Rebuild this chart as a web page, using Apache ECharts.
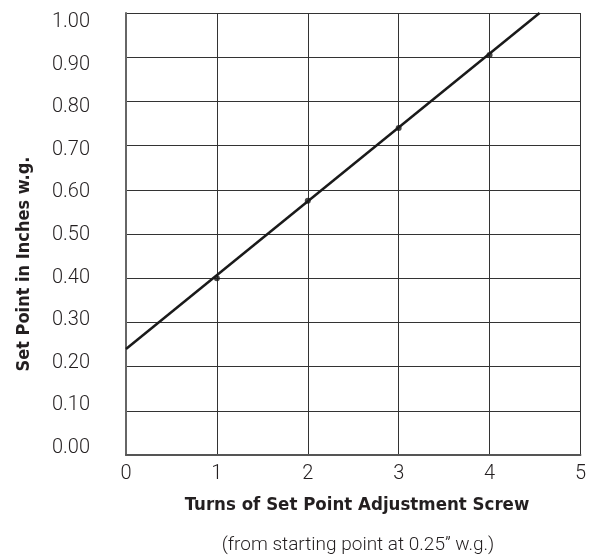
<!DOCTYPE html>
<html><head><meta charset="utf-8">
<script src="https://cdn.jsdelivr.net/npm/echarts@6/dist/echarts.min.js"></script>
<style>html,body{margin:0;padding:0;background:#fff}#c{width:589px;height:555px}</style>
</head><body><div id="c"></div>
<script>
const turns = [1, 2, 3, 4];
const setPoint = [0.40, 0.575, 0.74, 0.905];
const trendLine = [[0, 0.24], [4.55, 1.0]];
const xTicks = ['0', '1', '2', '3', '4', '5'];
const yTicks = ['0.00','0.10','0.20','0.30','0.40','0.50','0.60','0.70','0.80','0.90','1.00'];
const xTitle = 'Turns of Set Point Adjustment Screw';
const xSubtitle = '(from starting point at 0.25\u201d w.g.)';
const yTitle = 'Set Point in Inches w.g.';

const BOLD = '"DejaVu Sans Condensed", "Liberation Sans Narrow", sans-serif';
const LIGHT = 'Roboto, "DejaVu Sans Condensed", sans-serif';
const INK = '#231f20';
const chart = echarts.init(document.getElementById('c'), null, {renderer: 'canvas'});
chart.setOption({
  animation: false,
  grid: [
    {left: 126, right: 8, top: 13, bottom: 100, containLabel: false},
    {left: 126, right: 8, top: 22, bottom: 107, containLabel: false}
  ],
  graphic: [
    {type: 'text', x: 357, y: 505, z: 10,
      style: {text: xTitle, font: 'bold 18.5px ' + BOLD, fill: INK, align: 'center', verticalAlign: 'middle'}},
    {type: 'text', x: 358, y: 545, z: 10,
      style: {text: xSubtitle, font: '300 19px ' + LIGHT, fill: INK, align: 'center', verticalAlign: 'middle'}},
    {type: 'text', x: 24, y: 264, rotation: Math.PI / 2, z: 10,
      style: {text: yTitle, font: 'bold 18px ' + BOLD, fill: INK, align: 'center', verticalAlign: 'middle'}}
  ],
  xAxis: [{
    type: 'value', min: 0, max: 5, interval: 1, gridIndex: 0,
    axisLine: {show: true, lineStyle: {color: '#555', width: 2}},
    axisTick: {show: false},
    axisLabel: {fontFamily: LIGHT, fontWeight: 300, fontSize: 20, color: INK, margin: 9,
      formatter: v => xTicks[Math.round(v)]},
    splitLine: {show: true, lineStyle: {color: '#333', width: 1}}
  }, {
    type: 'value', min: 0, max: 5, gridIndex: 1, show: false
  }],
  yAxis: [{
    type: 'value', min: 0, max: 1, interval: 0.1, gridIndex: 0,
    axisLine: {show: true, lineStyle: {color: '#666', width: 2}},
    axisTick: {show: false},
    axisLabel: {show: false},
    splitLine: {show: true, lineStyle: {color: '#333', width: 1}}
  }, {
    type: 'value', min: 0, max: 1, interval: 0.1, gridIndex: 1,
    axisLine: {show: false}, axisTick: {show: false}, splitLine: {show: false},
    axisLabel: {fontFamily: LIGHT, fontWeight: 300, fontSize: 20, color: INK, margin: 36,
      formatter: v => yTicks[Math.round(v * 10)]}
  }],
  series: [
    {type: 'line', data: trendLine, symbol: 'none', lineStyle: {color: '#1a1a1a', width: 2.5}, z: 3},
    {type: 'scatter', data: turns.map((t, i) => [t, setPoint[i]]), symbol: 'circle', symbolSize: 6,
      itemStyle: {color: '#1a1a1a'}, z: 4}
  ]
});
</script>
</body></html>
